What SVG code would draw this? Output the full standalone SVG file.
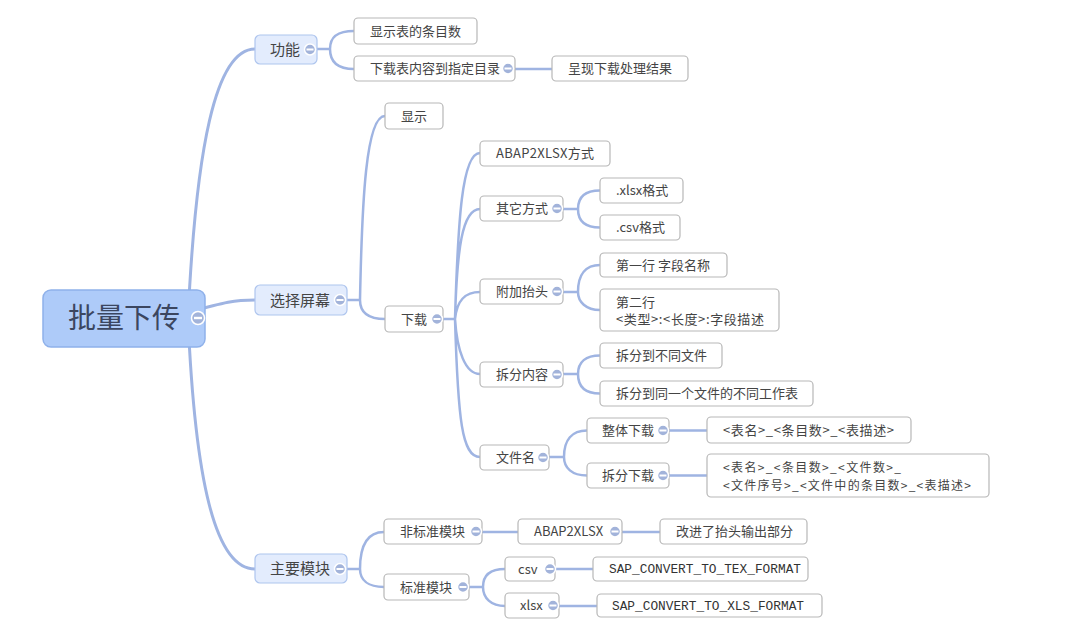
<svg xmlns="http://www.w3.org/2000/svg" width="1080" height="631" viewBox="0 0 1080 631">
<style>
.c{fill:none;stroke:#9fb4e2;stroke-width:2.5;stroke-linecap:round}
.c0{stroke-width:3}
.n{fill:#fff;stroke:#b7b7b7;stroke-width:1.2}
.l1{fill:#e3ecfd;stroke:#aec5ee;stroke-width:1.2}
.rt{fill:#aecbf9;stroke:#8fb1ea;stroke-width:1.5}
text{font-family:"Noto Sans CJK SC","Microsoft YaHei",sans-serif;fill:#444;font-size:13px}
.t1{font-size:15px}
.t0{font-size:28px;fill:#3b4660}
.s{font-size:12px}
.m{font-family:"Liberation Mono","Courier New",monospace;font-size:12.8px;fill:#333}
.k{fill:#a2b3da;stroke:#fff;stroke-width:1.5}
.kb{fill:#fff}
</style>
<defs>
<g id="col"><circle class="k" r="5.5"/><rect class="kb" x="-3.5" y="-1" width="7" height="2"/></g>
<g id="colr"><circle class="k" r="6.5" stroke-width="2"/><rect class="kb" x="-4" y="-1.2" width="8" height="2.4"/></g>
</defs>
<rect width="1080" height="631" fill="#fff"/>
<g id="connectors">
<path class="c c0" d="M188,318 C196,150 215,49 255,49"/>
<path class="c c0" d="M190,312 C225,302 235,300 255,300"/>
<path class="c c0" d="M188,318 C195,480 215,569 255,569"/>
<path class="c" d="M316,49 H330 M330,49 C330,36 338,31 354,31 M330,49 C330,62 338,69 354,69"/>
<path class="c" d="M515,69 H552"/>
<path class="c" d="M347,300 H360 M360,300 C362,200 366,116 385,116 M360,300 C360,312 368,319 385,319"/>
<path class="c" d="M443,319 H455 M455,319 C458,220 462,153 480,153 M455,319 C457,250 462,209 480,209 M455,319 C457,300 465,292 480,292 M455,319 C457,350 465,374 480,374 M455,319 C458,420 462,457 480,457"/>
<path class="c" d="M563,209 H578 M578,209 C578,196 586,190.5 600,190.5 M578,209 C578,222 586,227.5 600,227.5"/>
<path class="c" d="M563,292 H578 M578,292 C578,274 586,265 600,265 M578,292 C578,302 586,310 600,310"/>
<path class="c" d="M563,374 H578 M578,374 C578,362 586,355.5 600,355.5 M578,374 C578,387 586,393.5 600,393.5"/>
<path class="c" d="M549,457 H564 M564,457 C564,440 572,430.5 587,430.5 M564,457 C564,468 572,475.5 587,475.5"/>
<path class="c" d="M669,430.5 H707 M669,475.5 H707"/>
<path class="c" d="M347,569 H360 M360,569 C360,545 368,532 384,532 M360,569 C360,580 368,587 384,587"/>
<path class="c" d="M482,532 H518 M622,532 H660"/>
<path class="c" d="M469,587 H483 M483,587 C483,575 491,569 505,569 M483,587 C483,598 491,606 505,606"/>
<path class="c" d="M555,569 H593 M559,606 H597"/>
</g>
<g id="root"><rect class="rt" x="43" y="290" width="162" height="57" rx="8"/><text class="t0" x="68" y="328">批量下传</text><use href="#colr" x="198" y="318"/></g>
<g id="gongneng"><rect class="l1" x="255" y="35" width="62" height="29" rx="5"/><text class="t1" x="270" y="54.5">功能</text><use href="#col" x="310" y="49.5"/></g>
<g id="xuanze"><rect class="l1" x="255" y="285" width="92" height="30" rx="5"/><text class="t1" x="270" y="305.5">选择屏幕</text><use href="#col" x="340" y="300"/></g>
<g id="zhuyao"><rect class="l1" x="255" y="554" width="92" height="29" rx="5"/><text class="t1" x="270" y="574">主要模块</text><use href="#col" x="340" y="569"/></g>
<g id="n1"><rect class="n" x="354" y="18" width="123" height="26" rx="4"/><text x="370" y="35.5">显示表的条目数</text></g>
<g id="n2"><rect class="n" x="354" y="56" width="161" height="25" rx="4"/><text x="370" y="73">下载表内容到指定目录</text><use href="#col" x="508" y="68.5"/></g>
<g id="n3"><rect class="n" x="552" y="56" width="136" height="25" rx="4"/><text x="568" y="73">呈现下载处理结果</text></g>
<g id="n4"><rect class="n" x="385" y="103" width="58" height="26" rx="4"/><text x="401" y="120.5">显示</text></g>
<g id="n5"><rect class="n" x="385" y="306" width="58" height="26" rx="4"/><text x="401" y="323.5">下载</text><use href="#col" x="437" y="319"/></g>
<g id="n6"><rect class="n" x="480" y="141" width="130" height="25" rx="4"/><text x="496" y="158" textLength="98" lengthAdjust="spacing">ABAP2XLSX方式</text></g>
<g id="n7"><rect class="n" x="480" y="196" width="83" height="25" rx="4"/><text x="496" y="213">其它方式</text><use href="#col" x="557" y="208.5"/></g>
<g id="n8"><rect class="n" x="600" y="178" width="83" height="25" rx="4"/><text x="616" y="195">.xlsx格式</text></g>
<g id="n9"><rect class="n" x="600" y="215" width="80" height="25" rx="4"/><text x="616" y="232">.csv格式</text></g>
<g id="n10"><rect class="n" x="480" y="279" width="83" height="25" rx="4"/><text x="496" y="296">附加抬头</text><use href="#col" x="557" y="291.5"/></g>
<g id="n11"><rect class="n" x="600" y="253" width="127" height="24" rx="4"/><text x="616" y="269.5">第一行 字段名称</text></g>
<g id="n12"><rect class="n" x="600" y="289" width="179" height="42" rx="4"/><text x="616" y="307">第二行</text><text x="616" y="324" textLength="148" lengthAdjust="spacing">&lt;类型&gt;:&lt;长度&gt;:字段描述</text></g>
<g id="n13"><rect class="n" x="480" y="362" width="83" height="25" rx="4"/><text x="496" y="379">拆分内容</text><use href="#col" x="557" y="374.5"/></g>
<g id="n14"><rect class="n" x="600" y="343" width="122" height="25" rx="4"/><text x="616" y="360">拆分到不同文件</text></g>
<g id="n15"><rect class="n" x="600" y="381" width="213" height="25" rx="4"/><text x="616" y="398">拆分到同一个文件的不同工作表</text></g>
<g id="n16"><rect class="n" x="480" y="445" width="69" height="25" rx="4"/><text x="496" y="462">文件名</text><use href="#col" x="543" y="457.5"/></g>
<g id="n17"><rect class="n" x="587" y="418" width="82" height="25" rx="4"/><text x="602" y="435">整体下载</text><use href="#col" x="663" y="430.5"/></g>
<g id="n18"><rect class="n" x="587" y="463" width="82" height="25" rx="4"/><text x="602" y="480">拆分下载</text><use href="#col" x="663" y="475.5"/></g>
<g id="n19"><rect class="n" x="707" y="417" width="204" height="26" rx="4"/><text x="723" y="434.5" textLength="171" lengthAdjust="spacing">&lt;表名&gt;_&lt;条目数&gt;_&lt;表描述&gt;</text></g>
<g id="n20"><rect class="n" x="707" y="454" width="282" height="43" rx="4"/><text class="s" x="723" y="472" textLength="178" lengthAdjust="spacing">&lt;表名&gt;_&lt;条目数&gt;_&lt;文件数&gt;_</text><text class="s" x="723" y="490" textLength="248" lengthAdjust="spacing">&lt;文件序号&gt;_&lt;文件中的条目数&gt;_&lt;表描述&gt;</text></g>
<g id="n21"><rect class="n" x="384" y="519" width="98" height="25" rx="4"/><text x="400" y="536">非标准模块</text><use href="#col" x="476" y="531.5"/></g>
<g id="n22"><rect class="n" x="384" y="574" width="85" height="26" rx="4"/><text x="400" y="591.5">标准模块</text><use href="#col" x="463" y="587"/></g>
<g id="n23"><rect class="n" x="518" y="519" width="104" height="25" rx="4"/><text x="534" y="536">ABAP2XLSX</text><use href="#col" x="615" y="531.5"/></g>
<g id="n24"><rect class="n" x="660" y="519" width="147" height="25" rx="4"/><text x="676" y="536">改进了抬头输出部分</text></g>
<g id="n25"><rect class="n" x="505" y="557" width="50" height="24" rx="4"/><text x="518" y="573.5">csv</text><use href="#col" x="550" y="569"/></g>
<g id="n26"><rect class="n" x="505" y="593" width="54" height="25" rx="4"/><text x="520" y="610">xlsx</text><use href="#col" x="553" y="605.5"/></g>
<g id="n27"><rect class="n" x="593" y="557" width="215" height="24" rx="4"/><text class="m" x="609" y="573">SAP_CONVERT_TO_TEX_FORMAT</text></g>
<g id="n28"><rect class="n" x="597" y="594" width="225" height="23" rx="4"/><text class="m" x="612" y="609.5">SAP_CONVERT_TO_XLS_FORMAT</text></g>
</svg>
